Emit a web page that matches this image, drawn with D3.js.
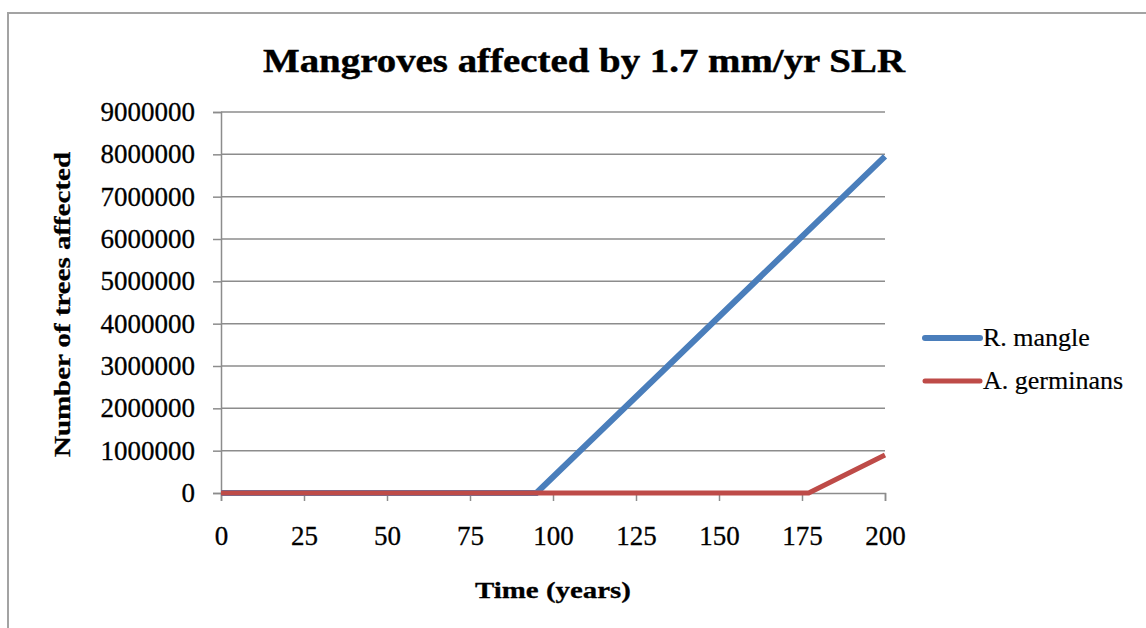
<!DOCTYPE html>
<html>
<head>
<meta charset="utf-8">
<script src="https://cdn.jsdelivr.net/npm/d3@7/dist/d3.min.js"></script>
<style>
  html, body { margin: 0; padding: 0; background: #fff; }
  svg { display: block; }
</style>
</head>
<body>
<svg id="chart" width="1146" height="628"></svg>
<script>
// data
const yearTicks = [0, 25, 50, 75, 100, 125, 150, 175, 200];
const valueTicks = [0, 1000000, 2000000, 3000000, 4000000, 5000000, 6000000, 7000000, 8000000, 9000000];

const rMangleYears = [0, 95, 200];
const rMangleTrees = [0, 0, 7950000];

const aGerminansYears = [0, 177, 200];
const aGerminansTrees = [0, 0, 900000];

const seriesNames = ["R. mangle", "A. germinans"];
const seriesColors = ["#4a7ebb", "#be4b48"];

const series = [
  { name: seriesNames[0], color: seriesColors[0], width: 6, pts: rMangleYears.map((y, i) => [y, rMangleTrees[i]]) },
  { name: seriesNames[1], color: seriesColors[1], width: 5, pts: aGerminansYears.map((y, i) => [y, aGerminansTrees[i]]) }
];

const svg = d3.select("#chart");
const serif = "'Liberation Serif', 'DejaVu Serif', serif";

// outer frame (only top + left edges visible)
svg.append("path")
  .attr("d", "M8,628 V13 H1146")
  .attr("fill", "none")
  .attr("stroke", "#a3a3a3")
  .attr("stroke-width", 2);

const x = d3.scaleLinear().domain([0, 200]).range([221, 885]);
const y = d3.scaleLinear().domain([0, 9000000]).range([493, 112]);

// title
svg.append("text")
  .attr("x", 584).attr("y", 72)
  .attr("text-anchor", "middle")
  .attr("font-family", serif)
  .attr("font-weight", "bold")
  .attr("font-size", 33)
  .attr("textLength", 642)
  .attr("lengthAdjust", "spacingAndGlyphs")
  .attr("stroke", "#000")
  .attr("stroke-width", 0.4)
  .text("Mangroves affected by 1.7 mm/yr SLR");

// gridlines
svg.append("g")
  .selectAll("line")
  .data(valueTicks.slice(1))
  .join("line")
  .attr("x1", x(0)).attr("x2", x(200))
  .attr("y1", d => y(d)).attr("y2", d => y(d))
  .attr("stroke", "#8c8c8c")
  .attr("stroke-width", 1.5);

// y axis
const yAxis = svg.append("g")
  .attr("transform", `translate(${x(0)},0)`)
  .call(d3.axisLeft(y).tickValues(valueTicks).tickFormat(d3.format("d")).tickSize(8).tickPadding(18));
yAxis.select(".domain").attr("stroke", "#8c8c8c").attr("stroke-width", 1.5);
yAxis.selectAll(".tick line").attr("stroke", "#8c8c8c").attr("stroke-width", 1.5);
yAxis.selectAll(".tick text")
  .attr("font-family", serif)
  .attr("font-size", 27)
  .attr("fill", "#000")
  .attr("stroke", "#000")
  .attr("stroke-width", 0.3);

// x axis
const xAxis = svg.append("g")
  .attr("transform", `translate(0,${y(0)})`)
  .call(d3.axisBottom(x).tickValues(yearTicks).tickSize(8).tickPadding(25));
xAxis.select(".domain").attr("stroke", "#8c8c8c").attr("stroke-width", 1.5);
xAxis.selectAll(".tick line").attr("stroke", "#8c8c8c").attr("stroke-width", 1.5);
xAxis.selectAll(".tick text")
  .attr("font-family", serif)
  .attr("font-size", 27)
  .attr("fill", "#000")
  .attr("stroke", "#000")
  .attr("stroke-width", 0.3);

// axis titles
svg.append("text")
  .attr("transform", `translate(70,${(112 + 493) / 2 + 2}) rotate(-90)`)
  .attr("text-anchor", "middle")
  .attr("font-family", serif)
  .attr("font-weight", "bold")
  .attr("font-size", 24)
  .attr("textLength", 305)
  .attr("lengthAdjust", "spacingAndGlyphs")
  .attr("stroke", "#000")
  .attr("stroke-width", 0.3)
  .text("Number of trees affected");

svg.append("text")
  .attr("x", 553).attr("y", 598)
  .attr("text-anchor", "middle")
  .attr("font-family", serif)
  .attr("font-weight", "bold")
  .attr("font-size", 24)
  .attr("textLength", 156)
  .attr("lengthAdjust", "spacingAndGlyphs")
  .attr("stroke", "#000")
  .attr("stroke-width", 0.3)
  .text("Time (years)");

// series lines
const line = d3.line().x(d => x(d[0])).y(d => y(d[1]));
svg.append("g")
  .selectAll("path")
  .data(series)
  .join("path")
  .attr("d", d => line(d.pts))
  .attr("fill", "none")
  .attr("stroke", d => d.color)
  .attr("stroke-width", d => d.width)
  .attr("stroke-linejoin", "round");

// legend
const legend = svg.append("g")
  .selectAll("g")
  .data(series)
  .join("g")
  .attr("transform", (d, i) => `translate(925,${338 + i * 43})`);
legend.append("line")
  .attr("x1", 0).attr("x2", 55)
  .attr("stroke", d => d.color)
  .attr("stroke-width", d => d.width)
  .attr("stroke-linecap", "round");
legend.append("text")
  .attr("x", 58).attr("y", 8)
  .attr("font-family", serif)
  .attr("font-size", 26)
  .attr("stroke", "#000")
  .attr("stroke-width", 0.2)
  .text(d => d.name);
</script>
</body>
</html>
